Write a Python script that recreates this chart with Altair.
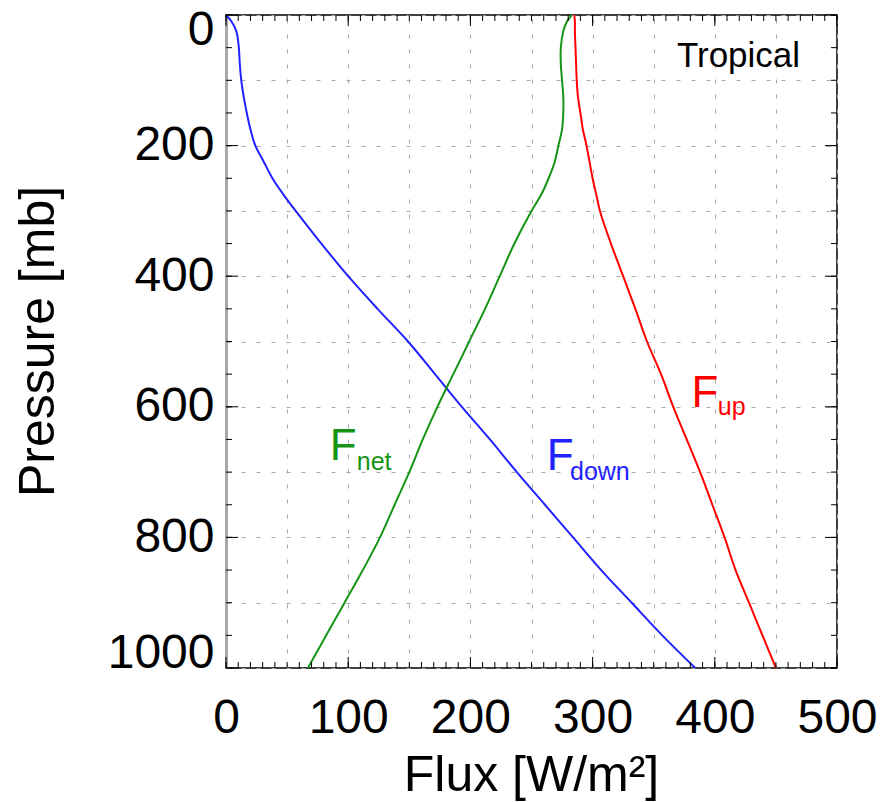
import altair as alt
import pandas as pd

# ---- data ----
pressure = [0, 10, 25, 50, 75, 100, 125, 150, 175, 200, 225, 250, 275, 300,
            350, 400, 450, 500, 550, 600, 650, 700, 750, 800, 850, 900, 950, 1000]
f_up = [285, 285.5, 285.5, 286, 286.5, 287, 288, 290, 292, 295, 297.5, 300, 303, 306,
        315, 325, 335, 344.5, 356, 366, 377, 388, 398, 408, 417, 428, 439, 450]
f_down = [0, 4.5, 8.5, 10.5, 11.3, 12.5, 14.5, 17, 20, 24, 31, 38, 47, 57,
          78, 100, 124, 149, 171, 193, 216, 238, 261, 284, 307, 332, 357, 384]
f_net = [283, 279, 276, 274, 274, 275, 276, 276, 275, 272, 269, 264, 258, 250,
         236, 224, 212, 199, 186, 173, 161, 150, 138, 126, 112, 97, 82, 67]

series_names = ["F_up", "F_down", "F_net"]
series_colors = ["#ff0000", "#2222ff", "#159415"]

x_ticks_major = list(range(0, 501, 100))
x_ticks_minor = list(range(0, 501, 10))
x_grid = list(range(0, 501, 50))
y_ticks_major = list(range(0, 1001, 200))
y_ticks_minor = list(range(0, 1001, 50))
y_grid = list(range(0, 1001, 100))

# annotation labels (big letter + subscript)
ann_main = pd.DataFrame({
    "t": ["F", "F", "F"],
    "flux": [85, 262.5, 381],
    "p": [681, 697, 600],
    "c": ["F_net", "F_down", "F_up"],
})
ann_sub = pd.DataFrame({
    "t": ["net", "down", "up"],
    "flux": [107, 281.5, 402.5],
    "p": [697, 712, 612],
    "c": ["F_net", "F_down", "F_up"],
})
region = pd.DataFrame({"t": ["Tropical"], "flux": [369], "p": [80]})

rows = []
for name, vals in zip(series_names, [f_up, f_down, f_net]):
    for p, v in zip(pressure, vals):
        rows.append({"series": name, "p": p, "flux": v})
df = pd.DataFrame(rows)

W, H = 611, 653
FONT = "Liberation Sans"

x_scale = alt.Scale(domain=[0, 500], nice=False, zero=False)
y_scale = alt.Scale(domain=[0, 1000], reverse=True, nice=False, zero=False)
color_scale = alt.Scale(domain=series_names, range=series_colors)

x_axis = alt.Axis(
    values=x_grid, grid=True, gridDash=[4, 11], gridColor="#a8a8a8", gridWidth=1,
    ticks=False, domain=False, format="d",
    labelExpr="datum.value % 100 === 0 ? datum.label : ''",
    labelFont=FONT, labelFontSize=48, labelPadding=26, labelFlush=False,
    labelOverlap=False, labelColor="black",
    title="Flux [W/m²]", titleFont=FONT, titleFontSize=50, titleFontWeight="normal",
    titleColor="black", titleX=305, titleY=122, titleAlign="center",
    titleBaseline="alphabetic",
)
y_axis = alt.Axis(
    values=y_grid, grid=True, gridDash=[4, 11], gridColor="#a8a8a8", gridWidth=1,
    ticks=False, domain=True, domainColor="#a8a8a8", domainWidth=3, format="d",
    labelExpr="datum.value % 200 === 0 ? datum.label : ''",
    labelFont=FONT, labelFontSize=48, labelPadding=12, labelFlush=True,
    labelFlushOffset=9,
    labelOverlap=False, labelColor="black",
    title="Pressure [mb]", titleFont=FONT, titleFontSize=50, titleFontWeight="normal",
    titleColor="black", titleX=-173, titleY=326, titleAlign="center",
    titleBaseline="alphabetic", titleAngle=270,
)


def X(field):
    return alt.X(field, type="quantitative", scale=x_scale, axis=x_axis)


def Y(field):
    return alt.Y(field, type="quantitative", scale=y_scale, axis=y_axis)


lines = alt.Chart(df).mark_line(strokeWidth=2, interpolate="catmull-rom").encode(
    x=X("flux"), y=Y("p"),
    color=alt.Color("series:N", scale=color_scale, legend=None),
    detail="series:N",
    order=alt.Order("p:Q"),
)

layers = [lines]

# inward tick marks on all four sides
for vals, ln in [(x_ticks_minor, 6), (x_ticks_major, 11)]:
    d = pd.DataFrame({"v": vals})
    layers.append(alt.Chart(d).mark_rule(color="black", strokeWidth=1).encode(
        x=X("v"), y=alt.value(H), y2=alt.value(H - ln)))
    layers.append(alt.Chart(d).mark_rule(color="black", strokeWidth=1).encode(
        x=X("v"), y=alt.value(0), y2=alt.value(ln)))
for vals, ln in [(y_ticks_minor, 6), (y_ticks_major, 12)]:
    d = pd.DataFrame({"v": vals})
    layers.append(alt.Chart(d).mark_rule(color="black", strokeWidth=1).encode(
        y=Y("v"), x=alt.value(0), x2=alt.value(ln)))
    layers.append(alt.Chart(d).mark_rule(color="black", strokeWidth=1).encode(
        y=Y("v"), x=alt.value(W), x2=alt.value(W - ln)))

big = alt.Chart(ann_main).mark_text(
    font=FONT, fontSize=44, align="left", baseline="alphabetic").encode(
    x=X("flux"), y=Y("p"), text="t:N",
    color=alt.Color("c:N", scale=color_scale, legend=None))
sub = alt.Chart(ann_sub).mark_text(
    font=FONT, fontSize=25, align="left", baseline="alphabetic").encode(
    x=X("flux"), y=Y("p"), text="t:N",
    color=alt.Color("c:N", scale=color_scale, legend=None))
reg = alt.Chart(region).mark_text(
    font=FONT, fontSize=35, align="left", baseline="alphabetic", color="black").encode(
    x=X("flux"), y=Y("p"), text="t:N")

layers += [big, sub, reg]

chart = alt.layer(*layers).properties(
    width=W, height=H,
    padding={"left": 226, "top": 15, "right": 43, "bottom": 134},
    autosize=alt.AutoSizeParams(type="none"),
    background="white",
).configure_view(stroke="black", strokeWidth=1.5)

chart.save("out.html", embed_options={"renderer": "svg", "actions": False})
